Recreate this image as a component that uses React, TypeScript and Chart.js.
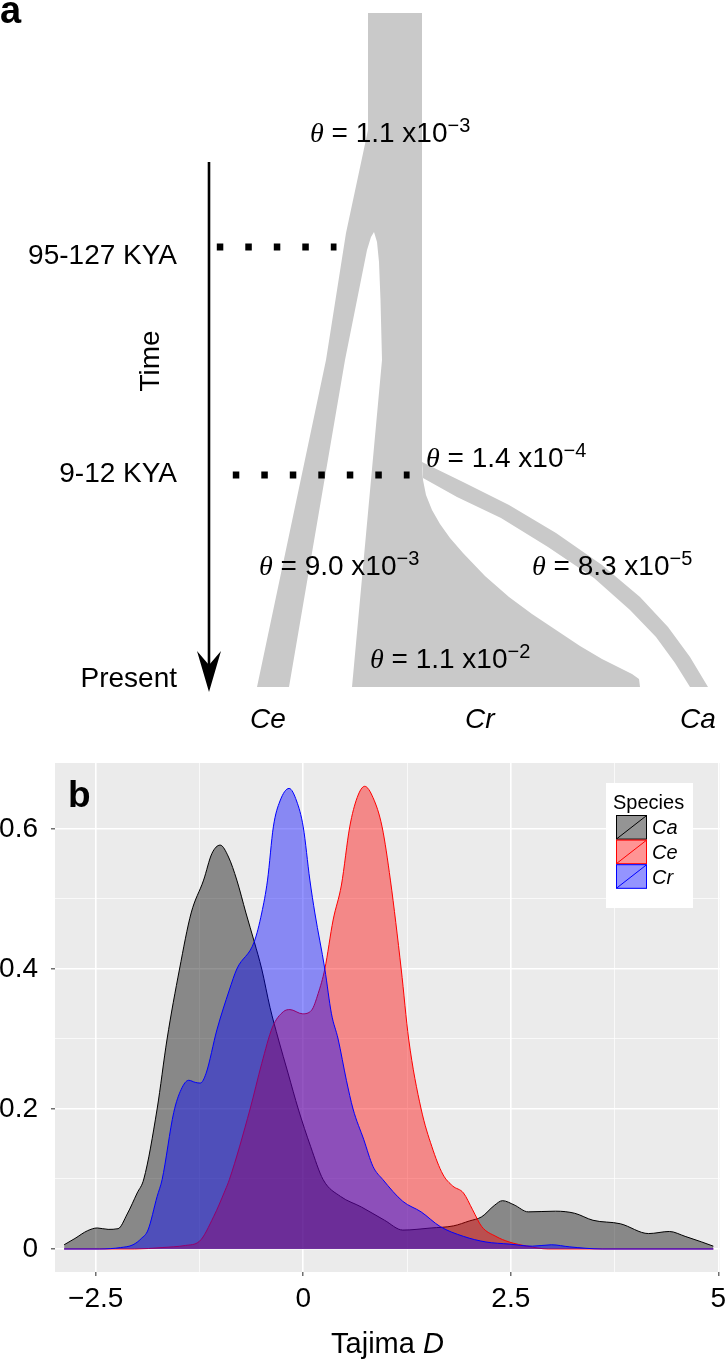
import React, { useEffect, useRef } from 'react';
import { Chart, registerables } from 'chart.js';

Chart.register(...registerables);

const SANS = "'Liberation Sans', Arial, Helvetica, sans-serif";
const SERIF = "'Liberation Serif', 'Times New Roman', serif";

// ---------------- Panel b: Tajima's D densities ----------------
const CA_X = [-2.88, -2.75, -2.6, -2.48, -2.35, -2.23, -2.12, -2.0, -1.92, -1.76, -1.64, -1.49, -1.35, -1.2, -1.1, -1.0, -0.9, -0.8, -0.69, -0.59, -0.5, -0.4, -0.3, -0.18, -0.06, 0.09, 0.24, 0.45, 0.7, 0.98, 1.2, 1.54, 1.81, 2.0, 2.15, 2.3, 2.4, 2.54, 2.71, 3.04, 3.27, 3.49, 3.82, 4.16, 4.41, 4.6, 4.8, 4.94];
const CA_Y = [0.006, 0.015, 0.026, 0.03, 0.028, 0.029, 0.05, 0.08, 0.1, 0.2, 0.3, 0.4, 0.48, 0.527, 0.565, 0.577, 0.56, 0.527, 0.48, 0.439, 0.4, 0.345, 0.3, 0.25, 0.2, 0.146, 0.099, 0.075, 0.06, 0.041, 0.027, 0.03, 0.033, 0.04, 0.046, 0.062, 0.069, 0.063, 0.053, 0.054, 0.051, 0.041, 0.036, 0.022, 0.025, 0.018, 0.01, 0.004];

const CE_X = [-2.88, -2.03, -1.7, -1.42, -1.25, -1.08, -0.94, -0.89, -0.64, -0.5, -0.37, -0.24, -0.16, -0.01, 0.1, 0.18, 0.26, 0.36, 0.46, 0.56, 0.65, 0.74, 0.84, 0.95, 1.05, 1.18, 1.27, 1.42, 1.55, 1.68, 1.8, 1.93, 2.04, 2.15, 2.32, 2.48, 2.7, 2.95, 4.94];
const CE_Y = [0, 0, 0.002, 0.005, 0.011, 0.046, 0.084, 0.099, 0.2, 0.265, 0.317, 0.339, 0.342, 0.336, 0.341, 0.365, 0.4, 0.47, 0.52, 0.603, 0.645, 0.661, 0.645, 0.603, 0.527, 0.4, 0.3, 0.2, 0.146, 0.107, 0.09, 0.08, 0.056, 0.032, 0.018, 0.01, 0.004, 0, 0];

const CR_X = [-2.88, -2.45, -2.2, -2.05, -1.95, -1.87, -1.76, -1.7, -1.56, -1.47, -1.38, -1.3, -1.24, -1.17, -1.04, -0.89, -0.8, -0.59, -0.5, -0.43, -0.36, -0.28, -0.17, -0.08, 0.0, 0.08, 0.14, 0.26, 0.34, 0.42, 0.52, 0.6, 0.73, 0.84, 0.96, 1.2, 1.42, 1.65, 1.93, 2.2, 2.48, 2.76, 2.99, 3.21, 3.6, 4.94];
const CR_Y = [0, 0, 0.002, 0.006, 0.015, 0.027, 0.075, 0.099, 0.195, 0.228, 0.241, 0.238, 0.237, 0.251, 0.313, 0.37, 0.4, 0.439, 0.48, 0.527, 0.603, 0.64, 0.658, 0.64, 0.603, 0.527, 0.48, 0.4, 0.336, 0.3, 0.241, 0.2, 0.156, 0.118, 0.099, 0.068, 0.053, 0.032, 0.018, 0.01, 0.007, 0.004, 0.006, 0.003, 0, 0];

const SPECIES = ['Ca', 'Ce', 'Cr'];
const SPECIES_LINE = ['#000000', '#ff0000', '#0000ff'];
const SPECIES_FILL = ['rgba(0,0,0,0.42)', 'rgba(255,0,0,0.42)', 'rgba(0,0,255,0.42)'];

const X_MIN = -2.99;
const X_MAX = 5.02;
const Y_MIN = -0.0329;
const Y_MAX = 0.6943;
const X_TICKS = [-2.5, -1.25, 0, 1.25, 2.5, 3.75, 5];
const X_MAJOR = [-2.5, 0, 2.5, 5];
const X_LABELS = ['\u22122.5', '0', '2.5', '5'];
const Y_TICKS = [0, 0.1, 0.2, 0.3, 0.4, 0.5, 0.6];
const Y_MAJOR = [0, 0.2, 0.4, 0.6];
const Y_LABELS = ['0', '0.2', '0.4', '0.6'];

// ---------------- Panel a: demographic model diagram ----------------
const BODY_SHAPE: number[][] = [
  [368, 13], [422, 13], [422, 468], [423, 480], [426, 495], [432, 510], [440, 524], [450, 538], [463, 553], [485, 576], [509, 597], [532, 614], [556, 630], [580, 646], [602, 659], [620, 668], [632, 674], [639, 679], [640, 687],
  [352, 687], [382, 360], [380.5, 300], [379, 262], [377, 242], [374, 232], [371, 237], [367, 250], [362, 275], [355, 310], [349, 340], [345, 360], [289, 687],
  [257, 687], [326, 360], [346, 233], [368, 130],
];
const CA_BRANCH: number[][] = [
  [422, 462], [463, 482], [509, 505], [556, 533], [602, 565], [640, 597], [668, 627], [690, 657], [708, 687],
  [690, 687], [675, 663], [656, 637], [630, 610], [594, 578], [548, 547], [501, 518], [457, 497], [423, 478],
];
const ARROW_HEAD: number[][] = [[209, 692], [197, 651], [209, 665], [221, 651]];
const ARROW_SHAFT: number[][] = [[209, 162], [209, 668]];
const DOTS_OLD: number[][] = [[216.8, 247], [336.5, 247]];
const DOTS_RECENT: number[][] = [[232.8, 475], [409.6, 475]];

const THETA_LABELS = [
  { x: 310, y: 132, value: '1.1', exponent: '\u22123' },
  { x: 426, y: 457, value: '1.4', exponent: '\u22124' },
  { x: 259, y: 565, value: '9.0', exponent: '\u22123' },
  { x: 532, y: 565, value: '8.3', exponent: '\u22125' },
  { x: 370, y: 658, value: '1.1', exponent: '\u22122' },
];
const TIME_LABELS = [
  { text: '95-127 KYA', x: 177, y: 254 },
  { text: '9-12 KYA', x: 177, y: 472 },
  { text: 'Present', x: 177, y: 677 },
];
const TIP_LABELS = [
  { text: 'Ce', x: 250, y: 718 },
  { text: 'Cr', x: 465, y: 718 },
  { text: 'Ca', x: 680, y: 718 },
];
const TIME_AXIS_LABEL = { text: 'Time', x: 149, y: 361 };

const TREE_GREY = '#c9c9c9';

const toPts = (arr: number[][]) => arr.map(([x, y]) => ({ x, y }));
const near = (v: number, list: number[]) => list.findIndex((m) => Math.abs(m - v) < 1e-6);

const polygonPlugin = {
  id: 'polygonFill',
  beforeDatasetsDraw(chart: any) {
    const ctx = chart.ctx;
    chart.data.datasets.forEach((ds: any, i: number) => {
      if (!ds.polygonFill) return;
      const meta = chart.getDatasetMeta(i);
      ctx.save();
      ctx.beginPath();
      meta.data.forEach((p: any, j: number) => {
        if (j === 0) ctx.moveTo(p.x, p.y);
        else ctx.lineTo(p.x, p.y);
      });
      ctx.closePath();
      ctx.fillStyle = ds.polygonFill;
      ctx.fill();
      ctx.restore();
    });
  },
};

function drawRich(ctx: CanvasRenderingContext2D, x: number, y: number, parts: { text: string; font: string; raise?: number }[]) {
  let cx = x;
  for (const p of parts) {
    ctx.font = p.font;
    ctx.fillText(p.text, cx, y - (p.raise || 0));
    cx += ctx.measureText(p.text).width;
  }
}

const diagramTextPlugin = {
  id: 'diagramText',
  afterDatasetsDraw(chart: any) {
    const ctx: CanvasRenderingContext2D = chart.ctx;
    const sx = chart.scales.x;
    const sy = chart.scales.y;
    const px = (v: number) => sx.getPixelForValue(v);
    const py = (v: number) => sy.getPixelForValue(v);
    ctx.save();
    ctx.fillStyle = '#000';
    ctx.textBaseline = 'alphabetic';
    ctx.font = `bold 38px ${SANS}`;
    ctx.textAlign = 'left';
    ctx.fillText('a', 0, 23);
    for (const t of THETA_LABELS) {
      drawRich(ctx, px(t.x), py(t.y) + 10, [
        { text: '\u03b8', font: `italic 28px ${SERIF}` },
        { text: ` = ${t.value} x10`, font: `28px ${SANS}` },
        { text: t.exponent, font: `20px ${SANS}`, raise: 10 },
      ]);
    }
    ctx.font = `28px ${SANS}`;
    ctx.textAlign = 'right';
    for (const t of TIME_LABELS) ctx.fillText(t.text, px(t.x), py(t.y) + 10);
    ctx.font = `italic 28px ${SANS}`;
    ctx.textAlign = 'left';
    for (const t of TIP_LABELS) ctx.fillText(t.text, px(t.x), py(t.y) + 10);
    ctx.save();
    ctx.translate(px(TIME_AXIS_LABEL.x), py(TIME_AXIS_LABEL.y));
    ctx.rotate(-Math.PI / 2);
    ctx.font = `28px ${SANS}`;
    ctx.textAlign = 'center';
    ctx.fillText(TIME_AXIS_LABEL.text, 0, 10);
    ctx.restore();
    ctx.restore();
  },
};

const panelDecorPlugin = {
  id: 'panelDecor',
  beforeDraw(chart: any) {
    const { ctx, chartArea: a } = chart;
    ctx.save();
    ctx.fillStyle = '#ebebeb';
    ctx.fillRect(a.left, a.top, a.right - a.left, a.bottom - a.top);
    ctx.restore();
  },
  afterDraw(chart: any) {
    const { ctx, chartArea: a } = chart;
    ctx.save();
    ctx.fillStyle = '#000';
    ctx.textBaseline = 'alphabetic';
    ctx.font = `bold 37px ${SANS}`;
    ctx.textAlign = 'left';
    ctx.fillText('b', a.left + 13, a.top + 44);
    const cx = (a.left + a.right) / 2;
    const base = a.bottom + 81;
    ctx.font = `29px ${SANS}`;
    const w1 = ctx.measureText('Tajima ').width;
    ctx.font = `italic 29px ${SANS}`;
    const w2 = ctx.measureText('D').width;
    const start = cx - (w1 + w2) / 2;
    ctx.font = `29px ${SANS}`;
    ctx.fillText('Tajima ', start, base);
    ctx.font = `italic 29px ${SANS}`;
    ctx.fillText('D', start + w1, base);
    // legend
    const boxR = a.right - 27;
    const boxL = boxR - 87;
    const boxT = a.top + 20;
    const boxB = boxT + 125;
    ctx.fillStyle = '#ffffff';
    ctx.fillRect(boxL, boxT, boxR - boxL, boxB - boxT);
    ctx.fillStyle = '#000';
    ctx.font = `20px ${SANS}`;
    ctx.fillText('Species', boxL + 7, boxT + 26);
    const keyL = boxL + 10;
    const keyW = 31;
    const keyH = 24.6;
    const keyT = boxT + 32;
    SPECIES.forEach((s, i) => {
      const top = keyT + i * keyH;
      ctx.fillStyle = SPECIES_FILL[i];
      ctx.fillRect(keyL, top, keyW, keyH);
      ctx.strokeStyle = SPECIES_LINE[i];
      ctx.lineWidth = 1;
      ctx.strokeRect(keyL + 0.5, top + 0.5, keyW - 1, keyH - 1);
      ctx.beginPath();
      ctx.moveTo(keyL + 1, top + keyH - 1);
      ctx.lineTo(keyL + keyW - 1, top + 1);
      ctx.stroke();
      ctx.fillStyle = '#000';
      ctx.font = `italic 20px ${SANS}`;
      ctx.fillText(s, keyL + keyW + 5, top + keyH / 2 + 7);
    });
    ctx.restore();
  },
};

function densityDataset(label: string, xs: number[], ys: number[], idx: number) {
  return {
    label,
    data: xs.map((x, i) => ({ x, y: ys[i] })),
    borderColor: SPECIES_LINE[idx],
    backgroundColor: SPECIES_FILL[idx],
    borderWidth: 1,
    fill: 'origin',
    pointRadius: 0,
    cubicInterpolationMode: 'monotone',
  };
}

const zeroPad = (s: any) => {
  s.paddingLeft = 0;
  s.paddingRight = 0;
  s.paddingTop = 0;
  s.paddingBottom = 0;
};

export default function App() {
  const refA = useRef<HTMLCanvasElement>(null);
  const refB = useRef<HTMLCanvasElement>(null);

  useEffect(() => {
    document.body.style.margin = '0';
    Chart.defaults.font.family = SANS;

    const chartA = new Chart(refA.current as HTMLCanvasElement, {
      type: 'scatter',
      data: {
        datasets: [
          { label: 'body', data: toPts(BODY_SHAPE), polygonFill: TREE_GREY, pointRadius: 0, showLine: false } as any,
          { label: 'Ca branch', data: toPts(CA_BRANCH), polygonFill: TREE_GREY, pointRadius: 0, showLine: false } as any,
          { label: 'arrow head', data: toPts(ARROW_HEAD), polygonFill: '#000', pointRadius: 0, showLine: false } as any,
          { label: 'arrow', data: toPts(ARROW_SHAFT), showLine: true, borderColor: '#000', borderWidth: 2.6, pointRadius: 0 },
          { label: 'split 1', data: toPts(DOTS_OLD), showLine: true, borderColor: '#000', borderWidth: 7, borderDash: [6.5, 22], borderCapStyle: 'butt', pointRadius: 0 },
          { label: 'split 2', data: toPts(DOTS_RECENT), showLine: true, borderColor: '#000', borderWidth: 7, borderDash: [6.5, 22], borderCapStyle: 'butt', pointRadius: 0 },
        ],
      },
      options: {
        animation: false,
        responsive: false,
        layout: { padding: 0, autoPadding: false },
        plugins: { legend: { display: false }, tooltip: { enabled: false } },
        scales: {
          x: { type: 'linear', min: 0, max: 726, display: false },
          y: { type: 'linear', min: 0, max: 740, reverse: true, display: false },
        },
      },
      plugins: [polygonPlugin, diagramTextPlugin],
    } as any);

    const chartB = new Chart(refB.current as HTMLCanvasElement, {
      type: 'line',
      data: {
        datasets: [
          densityDataset('Cr', CR_X, CR_Y, 2),
          densityDataset('Ce', CE_X, CE_Y, 1),
          densityDataset('Ca', CA_X, CA_Y, 0),
        ],
      },
      options: {
        animation: false,
        responsive: false,
        layout: { padding: { top: 23, right: 6, left: 0, bottom: 0 }, autoPadding: false },
        plugins: { legend: { display: false }, tooltip: { enabled: false } },
        scales: {
          x: {
            type: 'linear',
            min: X_MIN,
            max: X_MAX,
            afterBuildTicks: (s: any) => { s.ticks = X_TICKS.map((v) => ({ value: v })); },
            afterFit: (s: any) => { s.height = 87; zeroPad(s); },
            border: { display: false },
            grid: {
              color: '#ffffff',
              lineWidth: (c: any) => (c.tick && near(c.tick.value, X_MAJOR) >= 0 ? 1.6 : 0.7),
              tickColor: (c: any) => (c.tick && near(c.tick.value, X_MAJOR) >= 0 ? '#4d4d4d' : 'rgba(0,0,0,0)'),
              tickLength: 4,
              tickWidth: 1.2,
            },
            ticks: {
              autoSkip: false,
              maxRotation: 0,
              padding: 6,
              color: '#000',
              font: { size: 28, family: SANS },
              callback: (v: any) => { const k = near(Number(v), X_MAJOR); return k >= 0 ? X_LABELS[k] : ''; },
            },
          },
          y: {
            type: 'linear',
            min: Y_MIN,
            max: Y_MAX,
            afterBuildTicks: (s: any) => { s.ticks = Y_TICKS.map((v) => ({ value: v })); },
            afterFit: (s: any) => { s.width = 55; zeroPad(s); },
            border: { display: false },
            grid: {
              color: '#ffffff',
              lineWidth: (c: any) => (c.tick && near(c.tick.value, Y_MAJOR) >= 0 ? 1.6 : 0.7),
              tickColor: (c: any) => (c.tick && near(c.tick.value, Y_MAJOR) >= 0 ? '#4d4d4d' : 'rgba(0,0,0,0)'),
              tickLength: 4,
              tickWidth: 1.2,
            },
            ticks: {
              autoSkip: false,
              padding: 13,
              color: '#000',
              font: { size: 28, family: SANS },
              callback: (v: any) => { const k = near(Number(v), Y_MAJOR); return k >= 0 ? Y_LABELS[k] : ''; },
            },
          },
        },
      },
      plugins: [panelDecorPlugin],
    } as any);

    return () => {
      chartA.destroy();
      chartB.destroy();
    };
  }, []);

  return (
    <div style={{ position: 'absolute', left: 0, top: 0, width: 726, height: 1359, background: '#ffffff' }}>
      <canvas ref={refA} width={726} height={740} style={{ position: 'absolute', left: 0, top: 0, width: 726, height: 740, display: 'block' }} />
      <canvas ref={refB} width={726} height={619} style={{ position: 'absolute', left: 0, top: 740, width: 726, height: 619, display: 'block' }} />
    </div>
  );
}
